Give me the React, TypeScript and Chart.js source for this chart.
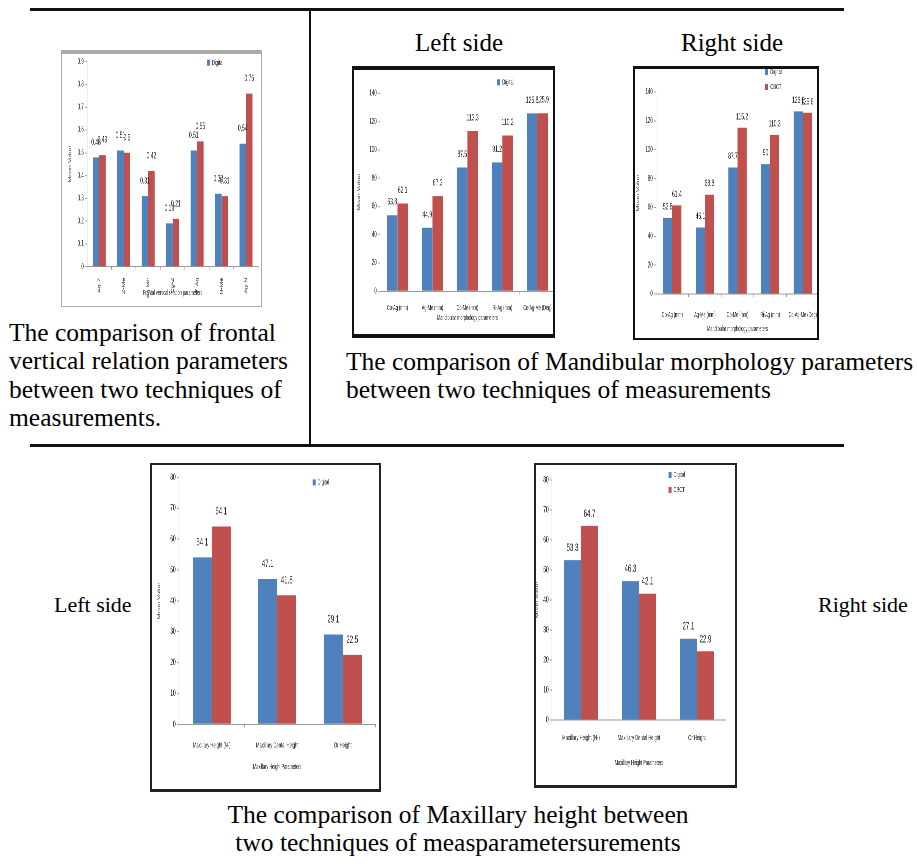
import React, { useEffect, useRef } from "react";
import { Chart, registerables } from "chart.js";

Chart.register(...registerables);

// ---------------- data ----------------
const seriesLabels = ["Digital", "CBCT"];

const frontalCategories = ["Ag-Z", "Z-Me", "Ag-Me", "Cg-Z", "Z-Ag", "N-Me", "Ag-N"];
const frontalDigital = [0.48, 0.51, 0.31, 0.19, 0.51, 0.32, 0.54];
const frontalCBCT = [0.49, 0.5, 0.42, 0.21, 0.55, 0.31, 0.76];
const frontalYMax = 0.9;
const frontalYStep = 0.1;

const mandibularCategories = ["Co-Ag (mm)", "Ag-Me (mm)", "Co-Me (mm)", "Ri-Ag (mm)", "Co-Ag-Me (Deg)"];
const mandibularLeftDigital = [53.8, 44.9, 87.5, 91.2, 125.8];
const mandibularLeftCBCT = [62.1, 67.3, 113.3, 110.2, 125.9];
const mandibularRightDigital = [52.8, 46.1, 87.7, 90, 126.6];
const mandibularRightCBCT = [61.4, 68.8, 115.2, 110.3, 125.6];
const mandibularYMax = 140;
const mandibularYStep = 20;

const maxillaryCategories = ["Maxillary Height (N-)", "Maxillary Dental Height", "Or Height"];
const maxillaryLeftDigital = [54.1, 47.1, 29.1];
const maxillaryLeftCBCT = [64.1, 41.8, 22.5];
const maxillaryRightDigital = [53.3, 46.3, 27.1];
const maxillaryRightCBCT = [64.7, 42.1, 22.9];
const maxillaryYMax = 80;
const maxillaryYStep = 10;

const yAxisTitle = "Mean Value";
const frontalXTitle = "Frontal vertical relation parameters";
const mandibularXTitle = "Mandibular morphology parameters";
const maxillaryXTitle = "Maxillary Height Parameters";

// ---------------- styles ----------------
const BLUE = "#4F81BD";
const RED = "#C0504D";
const SX = 0.55; // horizontal condensing of the small chart images
const CHART_FONT = "'Liberation Sans', Arial, sans-serif";
const SERIF = "'Liberation Serif', 'Times New Roman', serif";
const TXT = "#2a2a2a";
const AXIS = "#999";

const valueLabels = {
  id: "valueLabels",
  afterDatasetsDraw(chart: any, _args: any, opts: any) {
    const { ctx } = chart;
    ctx.save();
    ctx.font = `${opts.size}px ${CHART_FONT}`;
    ctx.fillStyle = TXT;
    ctx.textAlign = "center";
    ctx.textBaseline = "middle";
    chart.data.datasets.forEach((ds: any, i: number) => {
      const meta = chart.getDatasetMeta(i);
      meta.data.forEach((el: any, j: number) => {
        ctx.fillText(String(ds.data[j]), el.x, el.y - opts.offset);
      });
    });
    ctx.restore();
  },
};

const cornerLegend = {
  id: "cornerLegend",
  afterDraw(chart: any, _args: any, opts: any) {
    const { ctx, chartArea } = chart;
    const x = chartArea.left + opts.fx * (chartArea.right - chartArea.left);
    let y = chartArea.top + opts.dy;
    ctx.save();
    ctx.font = `${opts.size}px ${CHART_FONT}`;
    ctx.textBaseline = "middle";
    ctx.textAlign = "left";
    chart.data.datasets.slice(0, opts.count).forEach((ds: any) => {
      ctx.fillStyle = ds.backgroundColor;
      ctx.fillRect(x, y - 3, 3 / SX, 6);
      ctx.fillStyle = TXT;
      ctx.fillText(ds.label, x + 5 / SX, y);
      y += opts.step;
    });
    ctx.restore();
  },
};

type PanelSpec = {
  L: number; T: number; W: number; H: number;
  border: [number, number, number, number];
  borderColor: string;
  canvasW: number;
  plot: { l: number; t: number; r: number; b: number };
  categories: string[];
  digital: number[];
  cbct: number[];
  yMax: number;
  yStep: number;
  yFs: number;
  yTitleX: number;
  rotate: boolean;
  xFs: number;
  xPad: number;
  xTitle: string;
  xTitlePadB: number;
  legend: { fx: number; dy: number; count: number; step: number };
  dataFs: number;
  dataOffset: number;
  catPct: number;
  decimals?: boolean;
};

function BarPanel({ spec }: { spec: PanelSpec }) {
  const ref = useRef<HTMLCanvasElement>(null);
  const cw = Math.round(spec.canvasW / SX);
  useEffect(() => {
    const s = spec;
    const titleFs = 7;
    const chart = new Chart(ref.current as HTMLCanvasElement, {
      type: "bar",
      data: {
        labels: s.categories,
        datasets: [
          { label: seriesLabels[0], data: s.digital, backgroundColor: BLUE, categoryPercentage: s.catPct, barPercentage: 1 },
          { label: seriesLabels[1], data: s.cbct, backgroundColor: RED, categoryPercentage: s.catPct, barPercentage: 1 },
        ],
      },
      options: {
        responsive: false,
        animation: false,
        devicePixelRatio: 2,
        layout: { padding: { left: 0, top: s.plot.t, right: (s.canvasW - s.plot.r) / SX, bottom: 0 } },
        plugins: {
          legend: { display: false },
          tooltip: { enabled: false },
          valueLabels: { size: s.dataFs, offset: s.dataOffset },
          cornerLegend: { ...s.legend, size: 7.5 },
        } as any,
        scales: {
          x: {
            grid: { display: true, drawOnChartArea: false, tickLength: 3, color: AXIS, offset: true },
            border: { display: true, color: AXIS },
            ticks: {
              autoSkip: false,
              minRotation: s.rotate ? 90 : 0,
              maxRotation: s.rotate ? 90 : 0,
              padding: s.xPad,
              color: TXT,
              font: { size: s.xFs, family: CHART_FONT },
            },
            title: {
              display: true,
              text: s.xTitle,
              color: TXT,
              font: { size: titleFs, family: CHART_FONT },
              padding: { top: 0, bottom: s.xTitlePadB },
            },
            afterFit: (scale: any) => {
              scale.height = s.H - s.plot.b;
            },
          },
          y: {
            min: 0,
            max: s.yMax,
            ticks: {
              stepSize: s.yStep,
              color: TXT,
              padding: 3,
              font: { size: s.yFs, family: CHART_FONT },
              callback: (v: any) => (s.decimals ? (Number(v) === 0 ? "0" : Number(v).toFixed(1)) : String(v)),
            },
            grid: { drawOnChartArea: false, tickLength: 3, color: AXIS },
            border: { display: true, color: AXIS },
            title: {
              display: true,
              text: yAxisTitle,
              color: TXT,
              font: { size: titleFs, family: CHART_FONT },
              padding: { top: Math.max(0, s.yTitleX / SX - titleFs * 0.6), bottom: 0 },
            },
            afterFit: (scale: any) => {
              scale.width = s.plot.l / SX;
            },
          },
        },
      } as any,
      plugins: [valueLabels, cornerLegend],
    });
    return () => chart.destroy();
  }, [spec]);

  const [bt, br, bb, bl] = spec.border;
  return (
    <div
      style={{
        position: "absolute",
        left: spec.L,
        top: spec.T,
        width: spec.W,
        height: spec.H,
        overflow: "hidden",
        background: "#fff",
      }}
    >
      <canvas
        ref={ref}
        width={cw}
        height={spec.H}
        style={{ position: "absolute", left: 0, top: 0, transform: `scaleX(${SX})`, transformOrigin: "0 0" }}
      />
      <div
        style={{
          position: "absolute",
          left: 0,
          top: 0,
          width: spec.W,
          height: spec.H,
          boxSizing: "border-box",
          borderStyle: "solid",
          borderColor: spec.borderColor,
          borderWidth: `${bt}px ${br}px ${bb}px ${bl}px`,
          pointerEvents: "none",
        }}
      />
    </div>
  );
}

const panels: PanelSpec[] = [
  {
    L: 61, T: 50, W: 201, H: 257,
    border: [4, 1, 1, 1], borderColor: "#aaa",
    canvasW: 201,
    plot: { l: 26, t: 11.7, r: 197.5, b: 216.7 },
    categories: frontalCategories, digital: frontalDigital, cbct: frontalCBCT,
    yMax: frontalYMax, yStep: frontalYStep, yFs: 8, yTitleX: 9,
    rotate: true, xFs: 7, xPad: 8, xTitle: frontalXTitle, xTitlePadB: 9.8,
    legend: { fx: 0.7, dy: 1, count: 1, step: 14 },
    dataFs: 9, dataOffset: 15, catPct: 0.53, decimals: true,
  },
  {
    L: 352, T: 66, W: 203, H: 272,
    border: [4, 2, 4, 2], borderColor: "#111",
    canvasW: 235,
    plot: { l: 28, t: 27.3, r: 203, b: 225.3 },
    categories: mandibularCategories, digital: mandibularLeftDigital, cbct: mandibularLeftCBCT,
    yMax: mandibularYMax, yStep: mandibularYStep, yFs: 8, yTitleX: 7,
    rotate: false, xFs: 7, xPad: 9.5, xTitle: mandibularXTitle, xTitlePadB: 15.8,
    legend: { fx: 0.67, dy: -11, count: 1, step: 14 },
    dataFs: 9, dataOffset: 13, catPct: 0.6,
  },
  {
    L: 633, T: 66, W: 186, H: 274,
    border: [3, 2, 2, 2], borderColor: "#111",
    canvasW: 215,
    plot: { l: 23, t: 26, r: 186, b: 228 },
    categories: mandibularCategories, digital: mandibularRightDigital, cbct: mandibularRightCBCT,
    yMax: mandibularYMax, yStep: mandibularYStep, yFs: 8, yTitleX: 5,
    rotate: false, xFs: 7, xPad: 13.8, xTitle: mandibularXTitle, xTitlePadB: 6.8,
    legend: { fx: 0.67, dy: -20, count: 2, step: 15 },
    dataFs: 9, dataOffset: 11, catPct: 0.56,
  },
  {
    L: 150, T: 463, W: 231, H: 329,
    border: [2, 2, 3, 2], borderColor: "#222",
    canvasW: 231,
    plot: { l: 29, t: 14.4, r: 225.5, b: 261.3 },
    categories: maxillaryCategories, digital: maxillaryLeftDigital, cbct: maxillaryLeftCBCT,
    yMax: maxillaryYMax, yStep: maxillaryYStep, yFs: 9, yTitleX: 9,
    rotate: false, xFs: 7.5, xPad: 13.7, xTitle: maxillaryXTitle, xTitlePadB: 20.5,
    legend: { fx: 0.68, dy: 5, count: 1, step: 15 },
    dataFs: 11, dataOffset: 15, catPct: 0.58,
  },
  {
    L: 534, T: 463, W: 203, H: 325,
    border: [2, 2, 3, 2], borderColor: "#222",
    canvasW: 203,
    plot: { l: 18, t: 17, r: 192, b: 257 },
    categories: maxillaryCategories, digital: maxillaryRightDigital, cbct: maxillaryRightCBCT,
    yMax: maxillaryYMax, yStep: maxillaryYStep, yFs: 9, yTitleX: 3,
    rotate: false, xFs: 7.5, xPad: 10.5, xTitle: maxillaryXTitle, xTitlePadB: 20.5,
    legend: { fx: 0.67, dy: -5, count: 2, step: 15 },
    dataFs: 11, dataOffset: 12, catPct: 0.59,
  },
];

function Line({ x, y, w, h }: { x: number; y: number; w: number; h: number }) {
  return <div style={{ position: "absolute", left: x, top: y, width: w, height: h, background: "#111" }} />;
}

function TextBlock({
  lines, left, top, size, lh, width, align,
}: { lines: string[]; left: number; top: number; size: number; lh: number; width?: number; align?: "left" | "center" }) {
  return (
    <div
      style={{
        position: "absolute",
        left,
        top,
        width,
        fontFamily: SERIF,
        fontSize: size,
        lineHeight: `${lh}px`,
        color: "#000",
        whiteSpace: "nowrap",
        textAlign: align || "left",
      }}
    >
      {lines.map((t, i) => (
        <div key={i}>{t}</div>
      ))}
    </div>
  );
}

export default function App() {
  return (
    <div
      style={{
        position: "absolute",
        left: 0,
        top: 0,
        width: 917,
        height: 864,
        background: "#fff",
        overflow: "hidden",
      }}
    >
      <Line x={30} y={8} w={814} h={3} />
      <Line x={309} y={9} w={2} h={437} />
      <Line x={30} y={444} w={814} h={3} />

      <TextBlock lines={["Left side"]} left={359} top={28} size={25} lh={30} width={200} align="center" />
      <TextBlock lines={["Right side"]} left={632} top={28} size={25} lh={30} width={200} align="center" />

      <TextBlock
        lines={["The comparison of frontal", "vertical relation parameters", "between two techniques of", "measurements."]}
        left={9}
        top={319}
        size={25.5}
        lh={28.4}
      />
      <TextBlock
        lines={["The comparison of Mandibular morphology parameters", "between two techniques of measurements"]}
        left={346}
        top={348}
        size={25.5}
        lh={28.4}
      />

      <TextBlock lines={["Left side"]} left={54} top={590} size={22} lh={30} />
      <TextBlock lines={["Right side"]} left={818} top={590} size={22} lh={30} />

      <TextBlock
        lines={["The comparison of Maxillary height between", "two techniques of measparametersurements"]}
        left={158}
        top={801}
        size={25.5}
        lh={28}
        width={600}
        align="center"
      />

      {panels.map((p, i) => (
        <BarPanel key={i} spec={p} />
      ))}
    </div>
  );
}
